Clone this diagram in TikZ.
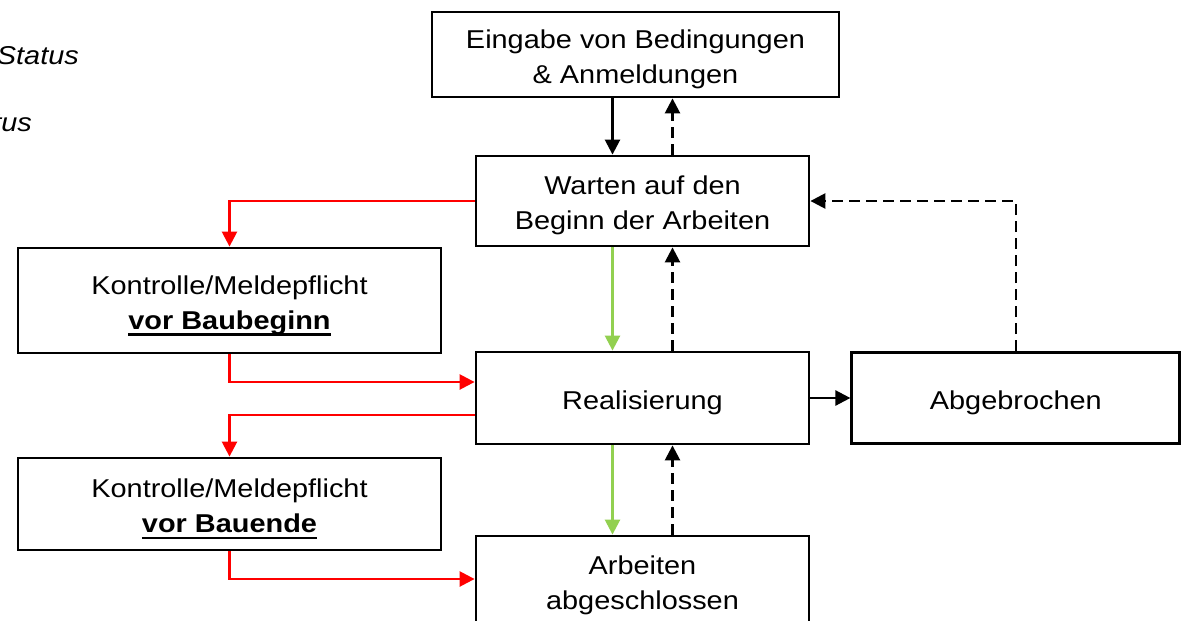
\documentclass[tikz,border=0pt]{standalone}
\usepackage{fontspec}
\setmainfont{Liberation Sans}[FakeStretch=1.12]
\usetikzlibrary{arrows.meta,positioning}

\definecolor{okgreen}{RGB}{146,208,80}
% underline, thick and a bit below the baseline
\newcommand{\unterstr}[1]{\leavevmode\setbox0=\hbox{#1}\rlap{\vrule height -4.3pt depth 6.8pt width \wd0}\box0}
% text lines of a box, baseline of the last line sits #1/2 below the centre
\newcommand{\zeilen}[2]{\raisebox{0pt}[#1][0pt]{\begin{tabular}[b]{@{}c@{}}#2\end{tabular}}}

\begin{document}
\begin{tikzpicture}[
                        x=1pt,y=-1pt,
                        >={Triangle[length=15pt,width=15pt]},
                        font=\fontsize{25.8}{34.6}\selectfont,
                        stat/.style={rectangle, draw, line width=2.8pt, inner sep=0pt},
                        flow/.style={->, line width=2.5pt},
                        back/.style={->, line width=2.5pt, dash pattern=on 11pt off 6pt},
                        go/.style={->, line width=2.5pt, okgreen},
                        check/.style={->, line width=2.5pt, red}
                    ]
                    \useasboundingbox (0,0) rectangle (1181,621);
                    % Legend (cut off)
                    \node [anchor=base east, inner sep=0pt, font=\fontsize{25.8}{34.6}\selectfont\itshape] (legA) at (79,64) {Status};
                    \node [anchor=base east, inner sep=0pt, font=\fontsize{25.8}{34.6}\selectfont\itshape] (legB) at (32,131) {tus};

                    % Blocks
                    \node [stat, minimum width=407pt, minimum height=85pt] (eingabe) at (635.5,54.5) {\zeilen{57pt}{Eingabe von Bedingungen\\\& Anmeldungen}};
                    \node [stat, minimum width=333pt, minimum height=90pt] (warten) at (642.5,201) {\zeilen{57pt}{Warten auf den\\Beginn der Arbeiten}};
                    \node [stat, minimum width=333pt, minimum height=92pt] (real) at (642.5,398) {\zeilen{22pt}{Realisierung}};
                    \node [stat, minimum width=333pt, minimum height=92pt] (arbeiten) at (642.5,582) {\zeilen{54pt}{Arbeiten\\abgeschlossen}};
                    \node [stat, minimum width=328pt, minimum height=91pt, right=40pt of real] (abbruch) {\zeilen{22pt}{Abgebrochen}};
                    \node [stat, minimum width=423pt, minimum height=105pt] (kontrolleA) at (229.5,300.5) {\zeilen{57pt}{Kontrolle/Meldepflicht\\\unterstr{\textbf{vor Baubeginn}}}};
                    \node [stat, minimum width=423pt, minimum height=92pt] (kontrolleB) at (229.5,504) {\zeilen{57pt}{Kontrolle/Meldepflicht\\\unterstr{\textbf{vor Bauende}}}};

                    % Connections
                    \draw [flow] ([xshift=-30pt]warten.north |- eingabe.south) -- ([xshift=-30pt]warten.north);
                    \draw [back] ([xshift=30pt]warten.north) -- ([xshift=30pt]warten.north |- eingabe.south);
                    \draw [go] ([xshift=-30pt]warten.south) -- ([xshift=-30pt]real.north);
                    \draw [back] ([xshift=30pt]real.north) -- ([xshift=30pt]warten.south);
                    \draw [go] ([xshift=-30pt]real.south) -- ([xshift=-30pt]arbeiten.north);
                    \draw [back] ([xshift=30pt]arbeiten.north) -- ([xshift=30pt]real.south);
                    \draw [flow] (real.east) -- (abbruch.west);
                    \draw [back] (abbruch.north) |- (warten.east);

                    \draw [check] (warten.west) -| (kontrolleA.north);
                    \draw [check] (kontrolleA.south) |- ([yshift=16pt]real.west);
                    \draw [check] ([yshift=-17pt]real.west) -| (kontrolleB.north);
                    \draw [check] (kontrolleB.south) |- ([yshift=3pt]arbeiten.west);
                \end{tikzpicture}
\end{document}
